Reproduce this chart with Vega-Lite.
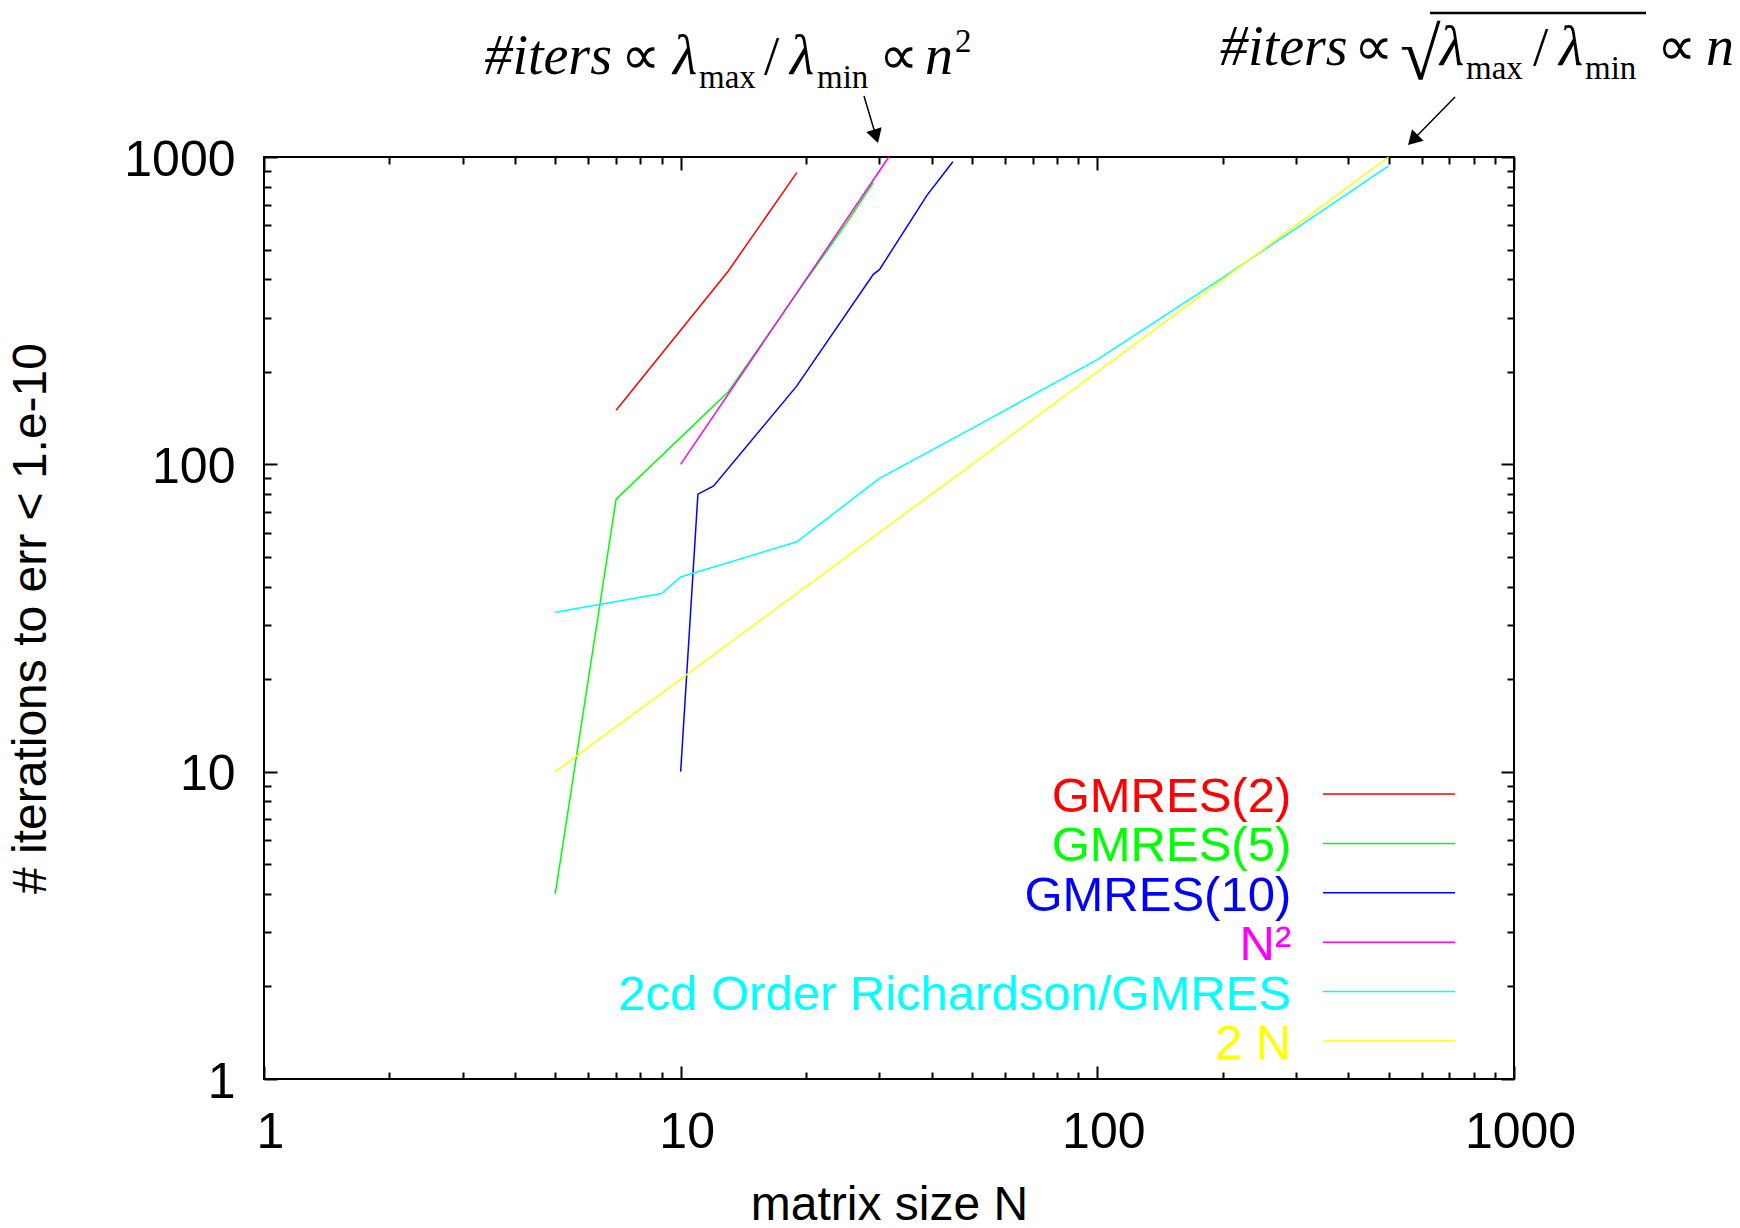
{
  "$schema": "https://vega.github.io/schema/vega-lite/v6.json",
  "width": 1250,
  "height": 922,
  "autosize": {"type": "none"},
  "padding": {"left": 264, "top": 157, "right": 226, "bottom": 149},
  "background": "white",
  "config": {
    "view": {"stroke": "#000", "strokeWidth": 2},
    "axis": {
      "domain": false, "grid": false, "tickColor": "#000", "tickWidth": 2,
      "labelFont": "Liberation Sans", "labelFontSize": 50, "labelColor": "#000",
      "titleFont": "Liberation Sans", "titleFontSize": 48, "titleFontWeight": "normal", "titleColor": "#000",
      "labelOverlap": false, "labelFlush": false, "labelBound": false
    }
  },
  "datasets": {
    "series": [
      {"series": "GMRES(2)", "N": 7, "iters": 150},
      {"series": "GMRES(2)", "N": 13, "iters": 425},
      {"series": "GMRES(2)", "N": 19, "iters": 890},
      {"series": "GMRES(5)", "N": 5, "iters": 4},
      {"series": "GMRES(5)", "N": 7, "iters": 77},
      {"series": "GMRES(5)", "N": 13, "iters": 172},
      {"series": "GMRES(5)", "N": 19, "iters": 360},
      {"series": "GMRES(5)", "N": 25, "iters": 609},
      {"series": "GMRES(5)", "N": 29, "iters": 825},
      {"series": "GMRES(10)", "N": 10, "iters": 10},
      {"series": "GMRES(10)", "N": 11, "iters": 80},
      {"series": "GMRES(10)", "N": 12, "iters": 85},
      {"series": "GMRES(10)", "N": 19, "iters": 180},
      {"series": "GMRES(10)", "N": 29, "iters": 415},
      {"series": "GMRES(10)", "N": 30, "iters": 430},
      {"series": "GMRES(10)", "N": 39, "iters": 750},
      {"series": "GMRES(10)", "N": 45, "iters": 965},
      {"series": "N²", "N": 10, "iters": 100},
      {"series": "N²", "N": 31.6, "iters": 1000},
      {"series": "2cd Order Richardson/GMRES", "N": 5, "iters": 33},
      {"series": "2cd Order Richardson/GMRES", "N": 9, "iters": 38},
      {"series": "2cd Order Richardson/GMRES", "N": 10, "iters": 43},
      {"series": "2cd Order Richardson/GMRES", "N": 19, "iters": 56},
      {"series": "2cd Order Richardson/GMRES", "N": 30, "iters": 90},
      {"series": "2cd Order Richardson/GMRES", "N": 50, "iters": 131},
      {"series": "2cd Order Richardson/GMRES", "N": 100, "iters": 219},
      {"series": "2cd Order Richardson/GMRES", "N": 200, "iters": 405},
      {"series": "2cd Order Richardson/GMRES", "N": 300, "iters": 586},
      {"series": "2cd Order Richardson/GMRES", "N": 500, "iters": 935},
      {"series": "2 N", "N": 5, "iters": 10},
      {"series": "2 N", "N": 500, "iters": 1000}
    ],
    "annot_roman": [
      {"N": 7.2, "iters": 1862, "text": "∝"},
      {"N": 15.85, "iters": 1862, "text": "/"},
      {"N": 29.92, "iters": 1862, "text": "∝"},
      {"N": 413, "iters": 1992, "text": "∝"},
      {"N": 1110.6, "iters": 1992, "text": "/"},
      {"N": 2203.5, "iters": 1992, "text": "∝"}
    ],
    "annot_italic": [
      {"N": 3.38, "iters": 1862, "text": "#iters"},
      {"N": 9.585, "iters": 1862, "text": "λ"},
      {"N": 18.30, "iters": 1862, "text": "λ"},
      {"N": 38.59, "iters": 1862, "text": "n"},
      {"N": 197, "iters": 1992, "text": "#iters"},
      {"N": 664.4, "iters": 1992, "text": "λ"},
      {"N": 1282.3, "iters": 1992, "text": "λ"},
      {"N": 2889, "iters": 1992, "text": "n"}
    ],
    "annot_script": [
      {"N": 11.066, "iters": 1677, "text": "max"},
      {"N": 21.24, "iters": 1677, "text": "min"},
      {"N": 45.53, "iters": 2196, "text": "2"},
      {"N": 767.1, "iters": 1794, "text": "max"},
      {"N": 1480.5, "iters": 1794, "text": "min"}
    ],
    "annot_radical": [
      {"N": 532.5, "iters": 1992, "text": "√"}
    ],
    "overbar": [
      {"N": 628.6, "N_end": 2074, "iters": 2942}
    ],
    "arrows": [
      {"N": 27.54, "iters": 1579, "N_end": 29.43, "iters_end": 1168, "angle": 163},
      {"N": 721.9, "iters": 1568, "N_end": 572, "iters_end": 1136, "angle": 224.4}
    ]
  },
  "resolve": {"scale": {"y": "independent"}},
  "layer": [
    {
      "resolve": {"axis": {"x": "independent", "y": "independent"}},
      "layer": [
        {
          "data": {"name": "series"},
          "mark": {"type": "line", "strokeWidth": 1.5},
          "encoding": {
            "x": {
              "field": "N", "type": "quantitative",
              "scale": {"type": "log", "domain": [1, 1000], "nice": false},
              "axis": {
                "orient": "bottom",
                "values": [1,2,3,4,5,6,7,8,9,10,20,30,40,50,60,70,80,90,100,200,300,400,500,600,700,800,900,1000],
                "tickSize": {"condition": {"test": "indexof([1,10,100,1000], datum.value) >= 0", "value": -13}, "value": -7},
                "labelExpr": "indexof([1,10,100,1000], datum.value) >= 0 ? datum.value + '' : ''",
                "labelPadding": 41,
                "labelOffset": 6,
                "title": "matrix size N",
                "titlePadding": 18
              }
            },
            "y": {
              "field": "iters", "type": "quantitative",
              "scale": {"type": "log", "domain": [1, 1000], "nice": false},
              "axis": {
                "orient": "left",
                "values": [1,2,3,4,5,6,7,8,9,10,20,30,40,50,60,70,80,90,100,200,300,400,500,600,700,800,900,1000],
                "tickSize": {"condition": {"test": "indexof([1,10,100,1000], datum.value) >= 0", "value": -13}, "value": -7},
                "labelExpr": "indexof([1,10,100,1000], datum.value) >= 0 ? datum.value + '' : ''",
                "labelPadding": 42,
                "labelOffset": 3,
                "labelBaseline": "middle",
                "title": "# iterations to err < 1.e-10",
                "titlePadding": 68
              }
            },
            "color": {
              "field": "series", "type": "nominal",
              "scale": {
                "domain": ["GMRES(2)", "GMRES(5)", "GMRES(10)", "N²", "2cd Order Richardson/GMRES", "2 N"],
                "range": ["#ff0000", "#00ff00", "#0000ff", "#ff00ff", "#00ffff", "#ffff00"]
              },
              "legend": null
            }
          }
        },
        {
          "data": {"name": "series"},
          "mark": {"type": "point", "opacity": 0},
          "encoding": {
            "x": {
              "field": "N", "type": "quantitative",
              "axis": {
                "orient": "top", "labels": false, "title": null,
                "values": [1,2,3,4,5,6,7,8,9,10,20,30,40,50,60,70,80,90,100,200,300,400,500,600,700,800,900,1000],
                "tickSize": {"condition": {"test": "indexof([1,10,100,1000], datum.value) >= 0", "value": -13}, "value": -7}
              }
            },
            "y": {
              "field": "iters", "type": "quantitative",
              "axis": {
                "orient": "right", "labels": false, "title": null,
                "values": [1,2,3,4,5,6,7,8,9,10,20,30,40,50,60,70,80,90,100,200,300,400,500,600,700,800,900,1000],
                "tickSize": {"condition": {"test": "indexof([1,10,100,1000], datum.value) >= 0", "value": -13}, "value": -7}
              }
            }
          }
        },
        {
          "data": {"name": "annot_roman"},
          "mark": {"type": "text", "align": "left", "baseline": "alphabetic", "font": "Liberation Serif", "fontSize": 55, "color": "#000"},
          "encoding": {
            "x": {"field": "N", "type": "quantitative", "axis": null},
            "y": {"field": "iters", "type": "quantitative", "axis": null},
            "text": {"field": "text"}
          }
        },
        {
          "data": {"name": "annot_italic"},
          "mark": {"type": "text", "align": "left", "baseline": "alphabetic", "font": "Liberation Serif", "fontStyle": "italic", "fontSize": 56, "color": "#000"},
          "encoding": {
            "x": {"field": "N", "type": "quantitative", "axis": null},
            "y": {"field": "iters", "type": "quantitative", "axis": null},
            "text": {"field": "text"}
          }
        },
        {
          "data": {"name": "annot_script"},
          "mark": {"type": "text", "align": "left", "baseline": "alphabetic", "font": "Liberation Serif", "fontSize": 33, "color": "#000"},
          "encoding": {
            "x": {"field": "N", "type": "quantitative", "axis": null},
            "y": {"field": "iters", "type": "quantitative", "axis": null},
            "text": {"field": "text"}
          }
        },
        {
          "data": {"name": "annot_radical"},
          "mark": {"type": "text", "align": "left", "baseline": "alphabetic", "font": "Liberation Serif", "fontSize": 74, "color": "#000", "dy": 14},
          "encoding": {
            "x": {"field": "N", "type": "quantitative", "axis": null},
            "y": {"field": "iters", "type": "quantitative", "axis": null},
            "text": {"field": "text"}
          }
        },
        {
          "data": {"name": "overbar"},
          "mark": {"type": "rule", "color": "#000", "strokeWidth": 2.5},
          "encoding": {
            "x": {"field": "N", "type": "quantitative", "axis": null},
            "x2": {"field": "N_end"},
            "y": {"field": "iters", "type": "quantitative", "axis": null}
          }
        },
        {
          "data": {"name": "arrows"},
          "mark": {"type": "rule", "color": "#000", "strokeWidth": 1.5},
          "encoding": {
            "x": {"field": "N", "type": "quantitative", "axis": null},
            "x2": {"field": "N_end"},
            "y": {"field": "iters", "type": "quantitative", "axis": null},
            "y2": {"field": "iters_end"}
          }
        },
        {
          "data": {"name": "arrows"},
          "mark": {"type": "point", "shape": "triangle-up", "filled": true, "color": "#000", "opacity": 1, "size": 260},
          "encoding": {
            "x": {"field": "N_end", "type": "quantitative", "axis": null},
            "y": {"field": "iters_end", "type": "quantitative", "axis": null},
            "angle": {"field": "angle", "type": "quantitative", "scale": null}
          }
        }
      ]
    },
    {
      "data": {"name": "series"},
      "transform": [{"aggregate": [{"op": "count", "as": "n"}], "groupby": ["series"]}],
      "encoding": {
        "y": {
          "field": "series", "type": "nominal",
          "scale": {"type": "point", "domain": ["GMRES(2)", "GMRES(5)", "GMRES(10)", "N²", "2cd Order Richardson/GMRES", "2 N"], "range": [637, 884], "padding": 0},
          "axis": null
        },
        "color": {"field": "series", "type": "nominal", "legend": null}
      },
      "layer": [
        {
          "mark": {"type": "text", "align": "right", "baseline": "middle", "font": "Liberation Sans", "fontSize": 49, "dy": 3},
          "encoding": {
            "x": {"datum": 292, "type": "quantitative", "axis": null},
            "text": {"field": "series"}
          }
        },
        {
          "mark": {"type": "rule", "strokeWidth": 1.5},
          "encoding": {
            "x": {"datum": 348, "type": "quantitative", "axis": null},
            "x2": {"datum": 722}
          }
        }
      ]
    }
  ]
}
